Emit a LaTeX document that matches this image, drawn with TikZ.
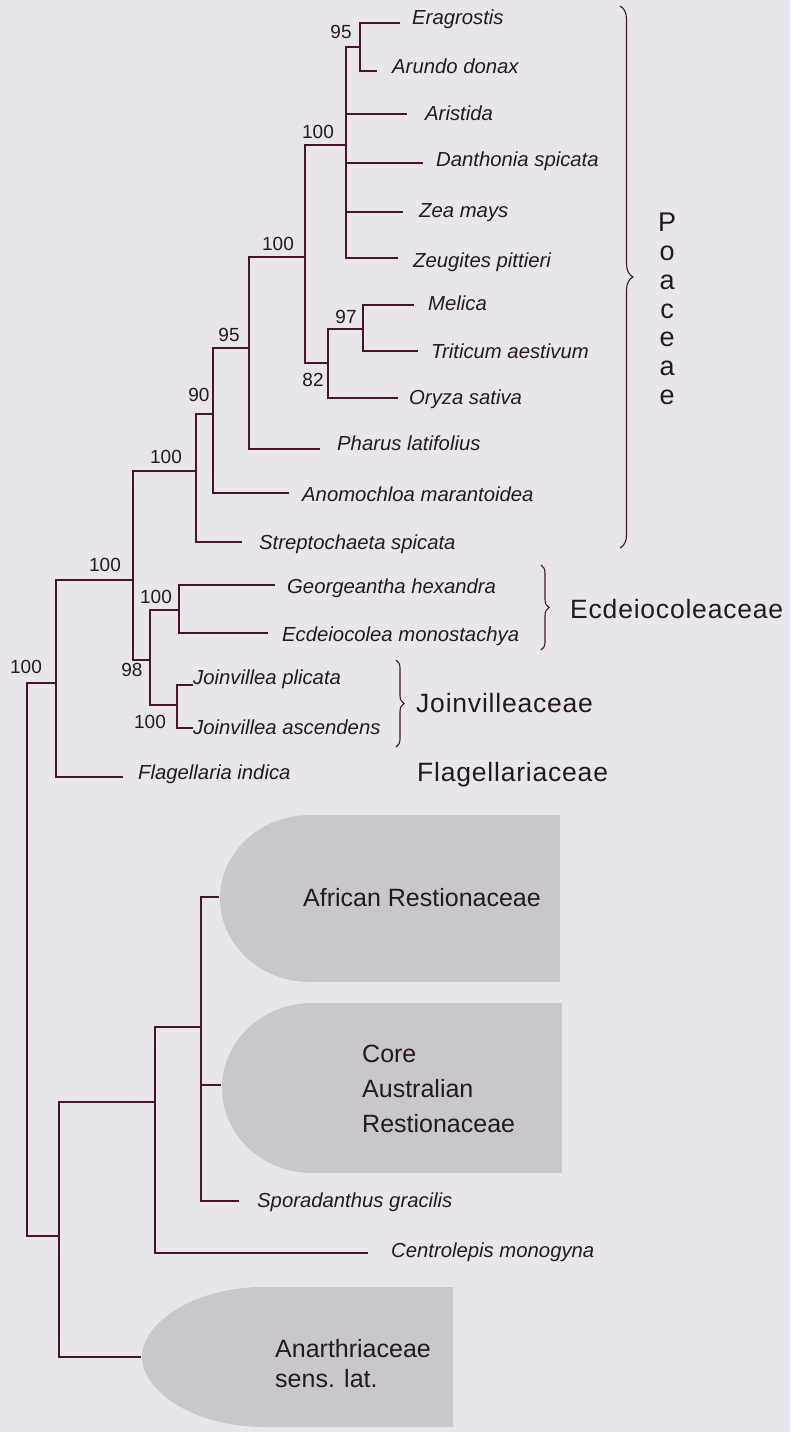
\documentclass[tikz,border=0pt]{standalone}
\usepackage{fontspec}
\setmainfont{Liberation Sans}
\newfontfamily\famfont[LetterSpace=3]{Liberation Sans}
\usetikzlibrary{decorations.pathreplacing}
\definecolor{bgc}{RGB}{232,230,236}
\definecolor{shc}{RGB}{201,199,204}
\definecolor{lnc}{RGB}{72,22,32}
\definecolor{txc}{RGB}{38,24,30}
\tikzset{
  branch/.style={draw=lnc, line width=1.9pt, line join=miter},
  tax/.style={anchor=west, inner sep=0pt, text height=14.5pt, text depth=0pt,
    font=\fontsize{20.3}{24}\selectfont\itshape, text=txc},
  bootlab/.style={anchor=center, inner sep=0pt, text height=13.6pt, text depth=0pt,
    font=\fontsize{19}{22}\selectfont, text=txc},
  fam/.style={anchor=west, inner sep=0pt, text height=19pt, text depth=0pt,
    font=\famfont\fontsize{26.5}{30}\selectfont, text=txc},
  cladelab/.style={inner sep=0pt, align=left, text=txc},
  cladeshape/.style={fill=shc},
  bracket/.style={draw=lnc, line width=1.1pt, decorate},
}
\begin{document}
\begin{tikzpicture}[x=1pt, y=-1pt]
\fill[bgc] (0,0) rectangle (790,1432);
\useasboundingbox (0,0) rectangle (790,1432);

% grey clade shapes
\fill[cladeshape] (310,898.5) ellipse [x radius=90, y radius=83.5];
\fill[cladeshape] (310,815) rectangle (560,982);
\fill[cladeshape] (312,1088) ellipse [x radius=90, y radius=85];
\fill[cladeshape] (312,1003) rectangle (562,1173);
\fill[cladeshape] (453,1287) -- (265,1287)
  .. controls (190,1287) and (142,1325) .. (142,1357)
  .. controls (142,1389) and (190,1427) .. (265,1427) -- (453,1427) -- cycle;

% internal nodes
\coordinate (root) at (27,960);
\coordinate (n56) at (56,683);
\coordinate (n133) at (133,580);
\coordinate (n196) at (196,471);
\coordinate (n213) at (213,414);
\coordinate (n249) at (249,348);
\coordinate (n305) at (305,257);
\coordinate (n346) at (346,145);
\coordinate (n360) at (360,47);
\coordinate (n328) at (328,363);
\coordinate (n363) at (363,329);
\coordinate (n150) at (150,660);
\coordinate (n179) at (179,610);
\coordinate (n177) at (177,705);
\coordinate (n59) at (59,1236);
\coordinate (n155) at (155,1102);
\coordinate (n201) at (201,1027);

% leaf ends
\coordinate (eraE) at (400,23);
\coordinate (aruE) at (377,71);
\coordinate (arisE) at (407,114);
\coordinate (danE) at (423,163);
\coordinate (zeaE) at (403,212);
\coordinate (zeuE) at (398,258);
\coordinate (melE) at (414,305);
\coordinate (triE) at (418,351);
\coordinate (oryE) at (398,398);
\coordinate (pharE) at (320,449);
\coordinate (anoE) at (289,493);
\coordinate (strE) at (242,542);
\coordinate (geoE) at (275,585);
\coordinate (ecdE) at (268,633);
\coordinate (joaE) at (193,685);
\coordinate (jobE) at (193,728);
\coordinate (flaE) at (123,777);
\coordinate (afrE) at (219,897);
\coordinate (corE) at (221,1085);
\coordinate (spoE) at (239,1201);
\coordinate (cenE) at (368,1253);
\coordinate (anaE) at (141,1357);

% branches
\draw[branch] (root) |- (n56);
\draw[branch] (root) |- (n59);
\draw[branch] (n56) |- (n133);
\draw[branch] (n56) |- (flaE);
\draw[branch] (n133) |- (n196);
\draw[branch] (n133) |- (n150);
\draw[branch] (n196) |- (n213);
\draw[branch] (n196) |- (strE);
\draw[branch] (n213) |- (n249);
\draw[branch] (n213) |- (anoE);
\draw[branch] (n249) |- (n305);
\draw[branch] (n249) |- (pharE);
\draw[branch] (n305) |- (n346);
\draw[branch] (n305) |- (n328);
\draw[branch] (n346) |- (n360);
\draw[branch] (n346) |- (arisE);
\draw[branch] (n346) |- (danE);
\draw[branch] (n346) |- (zeaE);
\draw[branch] (n346) |- (zeuE);
\draw[branch] (n360) |- (eraE);
\draw[branch] (n360) |- (aruE);
\draw[branch] (n328) |- (n363);
\draw[branch] (n328) |- (oryE);
\draw[branch] (n363) |- (melE);
\draw[branch] (n363) |- (triE);
\draw[branch] (n150) |- (n179);
\draw[branch] (n150) |- (n177);
\draw[branch] (n179) |- (geoE);
\draw[branch] (n179) |- (ecdE);
\draw[branch] (n177) |- (joaE);
\draw[branch] (n177) |- (jobE);
\draw[branch] (n59) |- (n155);
\draw[branch] (n59) |- (anaE);
\draw[branch] (n155) |- (n201);
\draw[branch] (n155) |- (cenE);
\draw[branch] (n201) |- (afrE);
\draw[branch] (n201) |- (corE);
\draw[branch] (n201) |- (spoE);

% support values
\node[bootlab] (b360) at (341,32) {95};
\node[bootlab] (b346) at (318,132) {100};
\node[bootlab] (b305) at (278,244) {100};
\node[bootlab] (b363) at (346,317) {97};
\node[bootlab] (b328) at (313,380) {82};
\node[bootlab] (b249) at (229,335) {95};
\node[bootlab] (b213) at (199,395) {90};
\node[bootlab] (b196) at (166,457) {100};
\node[bootlab] (b133) at (105,565) {100};
\node[bootlab] (b179) at (156,597) {100};
\node[bootlab] (b150) at (132,670) {98};
\node[bootlab] (b177) at (150,722) {100};
\node[bootlab] (b56) at (26,667) {100};

% taxon names
\node[tax] (era) at (412,17) {Eragrostis};
\node[tax] (aru) at (392,66) {Arundo donax};
\node[tax] (aris) at (425,113) {Aristida};
\node[tax] (dan) at (436,159) {Danthonia spicata};
\node[tax] (zea) at (419,210.5) {Zea mays};
\node[tax] (zeu) at (413,260) {Zeugites pittieri};
\node[tax] (mel) at (428,303) {Melica};
\node[tax] (tri) at (431,351) {Triticum aestivum};
\node[tax] (ory) at (409,397.5) {Oryza sativa};
\node[tax] (phar) at (337,443) {Pharus latifolius};
\node[tax] (ano) at (302,494) {Anomochloa marantoidea};
\node[tax] (str) at (259,542) {Streptochaeta spicata};
\node[tax] (geo) at (287,586) {Georgeantha hexandra};
\node[tax] (ecd) at (282,634) {Ecdeiocolea monostachya};
\node[tax] (joa) at (193,677) {Joinvillea plicata};
\node[tax] (job) at (193,727.5) {Joinvillea ascendens};
\node[tax] (fla) at (138,772) {Flagellaria indica};
\node[tax] (spo) at (257,1200) {Sporadanthus gracilis};
\node[tax] (cen) at (391,1250) {Centrolepis monogyna};

% braces and family names
\draw[bracket, decoration={brace, amplitude=13pt}] (620,6) -- (620,548);
\draw[bracket, decoration={brace, amplitude=8pt}] (541,565) -- (541,650);
\draw[bracket, decoration={brace, amplitude=8pt}] (396,660) -- (396,747);
\node[cladelab, align=center, anchor=north, font=\fontsize{27}{28.8}\selectfont] (poa) at (667,213) {P\\o\\a\\c\\e\\a\\e};
\node[fam] (ecdf) at (570,609) {Ecdeiocoleaceae};
\node[fam] (joif) at (416,703) {Joinvilleaceae};
\node[fam] (flaf) at (417,772) {Flagellariaceae};

% clade labels in shapes
\node[cladelab, anchor=west, text height=18pt, text depth=0pt, font=\fontsize{25}{35}\selectfont] (afr) at (303,897.5) {African Restionaceae};
\node[cladelab, anchor=north west, font=\fontsize{25}{35}\selectfont] (cor) at (362,1045) {Core\\Australian\\Restionaceae};
\node[cladelab, anchor=north west, font=\fontsize{25}{30}\selectfont] (ana) at (275,1339) {Anarthriaceae\\sens. lat.};
\end{tikzpicture}
\end{document}
